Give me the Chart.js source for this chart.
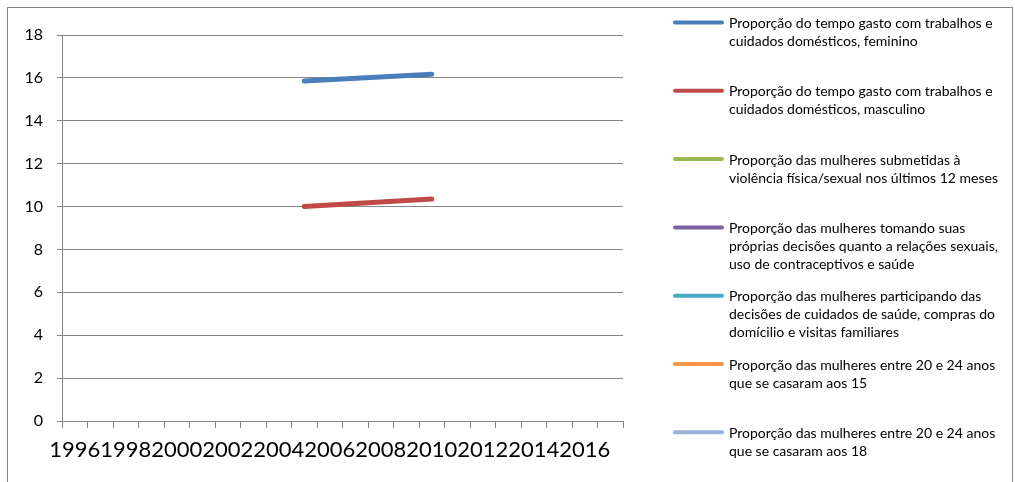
<!DOCTYPE html>
<html>
<head>
<meta charset="utf-8">
<script src="https://cdn.jsdelivr.net/npm/chart.js@4"></script>
<style>
  html, body { margin: 0; padding: 0; background: #fff; }
  #wrap { width: 1015px; height: 482px; position: relative; }
</style>
</head>
<body>
<div id="wrap"><canvas id="myChart" width="1015" height="482"></canvas></div>
<script>
// anos 1996..2017 (so os pares aparecem no eixo)
const anos = ['1996','1997','1998','1999','2000','2001','2002','2003','2004','2005','2006','2007','2008','2009','2010','2011','2012','2013','2014','2015','2016','2017'];

const tempoFeminino  = [null,null,null,null,null,null,null,null,null,15.85,null,null,null,null,16.17,null,null,null,null,null,null,null];
const tempoMasculino = [null,null,null,null,null,null,null,null,null,10.0,null,null,null,null,10.35,null,null,null,null,null,null,null];
const violencia      = [null,null,null,null,null,null,null,null,null,null,null,null,null,null,null,null,null,null,null,null,null,null];
const decisoesSexo   = [null,null,null,null,null,null,null,null,null,null,null,null,null,null,null,null,null,null,null,null,null,null];
const decisoesCasa   = [null,null,null,null,null,null,null,null,null,null,null,null,null,null,null,null,null,null,null,null,null,null];
const casadas15      = [null,null,null,null,null,null,null,null,null,null,null,null,null,null,null,null,null,null,null,null,null,null];
const casadas18      = [null,null,null,null,null,null,null,null,null,null,null,null,null,null,null,null,null,null,null,null,null,null];

const rotulos = [
  ['Proporção do tempo gasto com trabalhos e', 'cuidados domésticos, feminino'],
  ['Proporção do tempo gasto com trabalhos e', 'cuidados domésticos, masculino'],
  ['Proporção das mulheres submetidas à', 'violência física/sexual nos últimos 12 meses'],
  ['Proporção das mulheres tomando suas', 'próprias decisões quanto a relações sexuais,', 'uso de contraceptivos e saúde'],
  ['Proporção das mulheres participando das', 'decisões de cuidados de saúde, compras do', 'domícilio e visitas familiares'],
  ['Proporção das mulheres entre 20 e 24 anos', 'que se casaram aos 15'],
  ['Proporção das mulheres entre 20 e 24 anos', 'que se casaram aos 18']
];
const cores = ['#4A7EBB','#BE4B48','#98B954','#7D60A0','#46AAC5','#F79646','#95B3D7'];
const series = [tempoFeminino, tempoMasculino, violencia, decisoesSexo, decisoesCasa, casadas15, casadas18];

// legenda desenhada a mao na direita
const legendaDireita = {
  id: 'legendaDireita',
  afterDraw(chart) {
    const c = chart.ctx;
    c.save();
    // moldura
    c.strokeStyle = '#868686';
    c.lineWidth = 1;
    c.strokeRect(7.5, 7.5, 1005, 480);
    c.font = '14px Lato';
    c.textBaseline = 'middle';
    c.fillStyle = '#000';
    chart.data.datasets.forEach((ds, i) => {
      const y = 22.5 + i * 68.3;
      c.strokeStyle = ds.borderColor;
      c.lineWidth = 4;
      c.lineCap = 'round';
      c.beginPath();
      c.moveTo(675, y);
      c.lineTo(722, y);
      c.stroke();
      rotulos[i].forEach((t, k) => {
        c.fillText(t, 729, y + 1 + k * 18);
      });
    });
    c.restore();
  }
};

const ctx = document.getElementById('myChart');

new Chart(ctx, {
  type: 'line',
  data: {
    labels: anos,
    datasets: series.map((d, i) => ({
      label: rotulos[i].join(' '),
      data: d,
      borderColor: cores[i],
      backgroundColor: cores[i],
      borderWidth: 5,
      borderCapStyle: 'round',
      pointRadius: 0,
      spanGaps: true,
      tension: 0
    }))
  },
  options: {
    responsive: false,
    animation: false,
    layout: { padding: { left: 0, top: 35, right: 392, bottom: 0 } },
    plugins: {
      legend: { display: false },
      tooltip: { enabled: false }
    },
    scales: {
      x: {
        offset: true,
        afterFit: s => { s.height = 61; },
        grid: {
          offset: true,
          drawOnChartArea: false,
          tickLength: 7,
          color: '#868686'
        },
        border: { color: '#868686' },
        ticks: {
          autoSkip: false,
          maxRotation: 0,
          padding: 9,
          color: '#000',
          font: { family: 'Lato', size: 22 },
          callback: function(v, i) { return i % 2 === 0 ? anos[i] : ''; }
        }
      },
      y: {
        min: 0,
        max: 18,
        afterFit: s => { s.width = 62; },
        grid: { color: '#868686', tickLength: 5 },
        border: { color: '#868686' },
        ticks: {
          stepSize: 2,
          padding: 14,
          color: '#000',
          font: { family: 'Lato', size: 16 }
        }
      }
    }
  },
  plugins: [legendaDireita]
});
</script>
</body>
</html>
